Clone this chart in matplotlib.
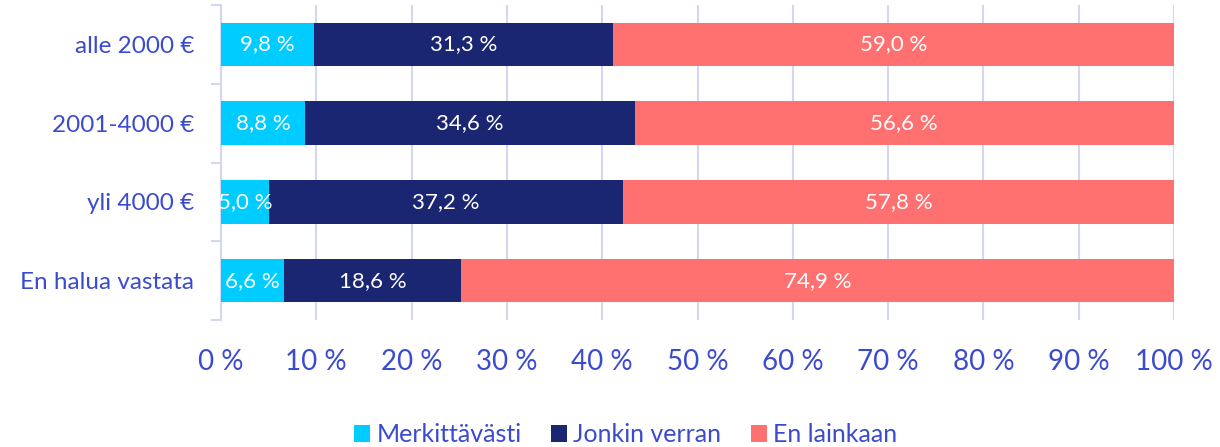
import numpy as np
import matplotlib
matplotlib.use("Agg")
import matplotlib.pyplot as plt

plt.rcParams["font.family"] = ["Lato", "DejaVu Sans"]

categorias = ["alle 2000 €", "2001-4000 €", "yli 4000 €", "En halua vastata"]
series = ["Merkittävästi", "Jonkin verran", "En lainkaan"]
merkittavasti = [9.8, 8.8, 5.0, 6.6]
jonkin_verran = [31.3, 34.6, 37.2, 18.6]
en_lainkaan = [59.0, 56.6, 57.8, 74.9]
xticks = list(range(0, 101, 10))

COLORES = ["#00CCFF", "#1A2672", "#FF7070"]
TEXTO = "#3B4BCF"
REJILLA = "#D3D7F2"

fig = plt.figure(figsize=(12.2, 4.47), dpi=100)
ax = fig.add_axes([221 / 1220, 1 - 320 / 447, (1174 - 221) / 1220, 315 / 447])

y = np.arange(len(categorias))
izq = np.zeros(len(categorias))
for nombre, vals, col in zip(series, [merkittavasti, jonkin_verran, en_lainkaan], COLORES):
    vals = np.array(vals)
    ax.barh(y, vals, left=izq, height=0.55, color=col, label=nombre, zorder=3)
    for yi, l, v in zip(y, izq, vals):
        ax.text(l + v / 2, yi, f"{v:.1f} %".replace(".", ","), ha="center", va="center",
                color="white", fontsize=16, zorder=4)
    izq += vals

ax.set_xlim(0, 100)
ax.set_ylim(len(categorias) - 0.5, -0.5)
ax.set_yticks(y)
ax.set_yticklabels(categorias, fontsize=17.5, color=TEXTO)
ax.set_yticks(np.arange(-0.5, len(categorias)), minor=True)
ax.tick_params(axis="y", which="major", length=0, pad=19.5)
ax.tick_params(axis="y", which="minor", length=7, width=1.5, color=REJILLA)
ax.set_xticks(xticks)
ax.set_xticklabels([f"{t} %" for t in xticks], fontsize=20, color=TEXTO)
ax.tick_params(axis="x", length=0, pad=21)
ax.xaxis.grid(True, color=REJILLA, linewidth=1.5, zorder=0)
for s in ["top", "right", "bottom"]:
    ax.spines[s].set_visible(False)
ax.spines["left"].set_color(REJILLA)
ax.spines["left"].set_linewidth(1.5)

leg = fig.legend(loc="center", bbox_to_anchor=(626 / 1220, 12 / 447), ncol=3, frameon=False,
                 fontsize=18, handlelength=0.64, handleheight=0.64, handletextpad=0.24,
                 columnspacing=1.2)
for t in leg.get_texts():
    t.set_color(TEXTO)

fig.savefig("out.png", dpi=100)
